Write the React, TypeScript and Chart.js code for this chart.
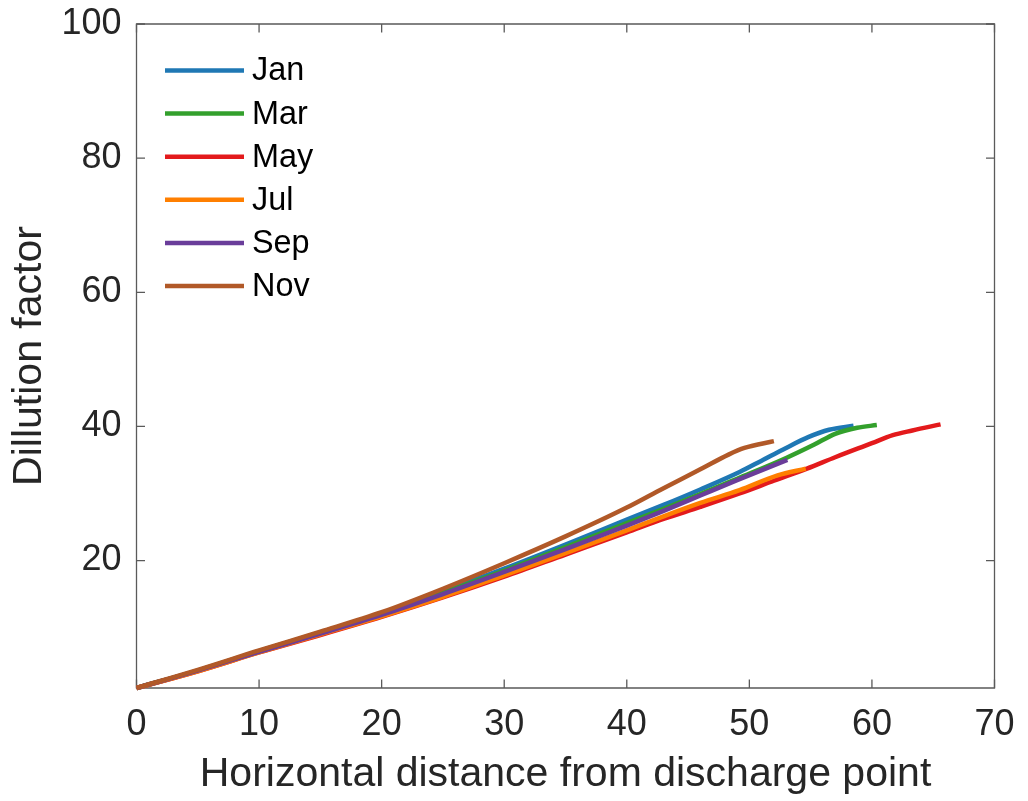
import React, { useEffect, useRef } from "react";
import { Chart, registerables } from "chart.js";

Chart.register(...registerables);

const seriesNames = ["Jan", "Mar", "May", "Jul", "Sep", "Nov"];
const seriesColors = ["#1f78b4", "#33a02c", "#e31a1c", "#ff7f00", "#6a3d9a", "#b15928"];

const janX = [0, 5, 10, 15, 20, 25, 30, 35, 40, 43, 46, 49.2, 51, 53, 54.8, 56.5, 58.5];
const janY = [1, 3.6, 6.5, 9.3, 12.1, 15.4, 18.8, 22.4, 26.1, 28.3, 30.6, 33.2, 34.9, 36.8, 38.4, 39.5, 40.1];

const marX = [0, 5, 10, 15, 20, 25, 30, 35, 40, 43, 46, 49, 53, 55.3, 57, 58.8, 60.4];
const marY = [1, 3.6, 6.5, 9.2, 12.0, 15.2, 18.5, 22.0, 25.6, 27.7, 29.9, 32.2, 35.3, 37.3, 38.9, 39.8, 40.2];

const mayX = [0, 5, 10, 15, 20, 25, 30, 35, 40, 43, 46, 49.2, 52, 54.7, 57, 60, 61.7, 63.3, 65.6];
const mayY = [1, 3.5, 6.3, 8.9, 11.6, 14.5, 17.6, 20.9, 24.2, 26.2, 28.0, 30.0, 31.9, 33.7, 35.4, 37.5, 38.7, 39.4, 40.3];

const julX = [0, 5, 10, 15, 20, 25, 30, 35, 40, 43, 46, 49.2, 52.3, 54.6];
const julY = [1, 3.5, 6.3, 9.0, 11.7, 14.6, 17.8, 21.1, 24.5, 26.6, 28.6, 30.5, 32.7, 33.7];

const sepX = [0, 5, 10, 15, 20, 25, 30, 35, 40, 43, 46, 49, 53.1];
const sepY = [1, 3.6, 6.4, 9.1, 11.9, 15.0, 18.3, 21.7, 25.2, 27.4, 29.7, 32.0, 35.0];

const novX = [0, 5, 10, 15, 20, 25, 30, 35, 40, 43, 46, 48.3, 49.6, 52.0];
const novY = [1, 3.7, 6.6, 9.4, 12.3, 15.8, 19.6, 23.6, 27.9, 30.8, 33.6, 35.8, 36.8, 37.8];

const xTicks = [0, 10, 20, 30, 40, 50, 60, 70];
const yTicks = [20, 40, 60, 80, 100];
const xTitle = "Horizontal distance from discharge point";
const yTitle = "Dillution factor";

const seriesX = [janX, marX, mayX, julX, sepX, novX];
const seriesY = [janY, marY, mayY, julY, sepY, novY];

const FONT = "'Liberation Sans', Arial, Helvetica, sans-serif";
const AXIS_COLOR = "#5a5a5a";
const TEXT_COLOR = "#262626";

const boxPlugin = {
  id: "boxTicks",
  beforeDatasetsDraw(chart: any) {
    const { ctx, chartArea } = chart;
    const xs = chart.scales.x;
    const ys = chart.scales.y;
    const { left, right, top, bottom } = chartArea;
    const tl = 8.5;
    ctx.save();
    ctx.strokeStyle = AXIS_COLOR;
    ctx.lineWidth = 1.3;
    ctx.beginPath();
    ctx.rect(left, top, right - left, bottom - top);
    ctx.stroke();
    ctx.beginPath();
    xTicks.forEach((v) => {
      const px = xs.getPixelForValue(v);
      ctx.moveTo(px, bottom);
      ctx.lineTo(px, bottom - tl);
      ctx.moveTo(px, top);
      ctx.lineTo(px, top + tl);
    });
    yTicks.forEach((v) => {
      const py = ys.getPixelForValue(v);
      ctx.moveTo(left, py);
      ctx.lineTo(left + tl, py);
      ctx.moveTo(right, py);
      ctx.lineTo(right - tl, py);
    });
    ctx.stroke();
    ctx.restore();
  },
  afterDatasetsDraw(chart: any) {
    const { ctx, chartArea } = chart;
    ctx.save();
    const x0 = chartArea.left + 28.5;
    const x1 = chartArea.left + 107.5;
    const tx = chartArea.left + 115.5;
    const y0 = chartArea.top + 46.5;
    const dy = 43.1;
    ctx.font = `32.4px ${FONT}`;
    ctx.textBaseline = "middle";
    ctx.textAlign = "left";
    chart.data.datasets.forEach((ds: any, i: number) => {
      const y = y0 + i * dy;
      ctx.strokeStyle = ds.borderColor;
      ctx.lineWidth = 4.5;
      ctx.beginPath();
      ctx.moveTo(x0, y);
      ctx.lineTo(x1, y);
      ctx.stroke();
      ctx.fillStyle = "#000000";
      ctx.fillText(ds.label, tx, y + 1);
    });
    ctx.restore();
  },
};

export default function App() {
  const canvasRef = useRef<HTMLCanvasElement | null>(null);

  useEffect(() => {
    const canvas = canvasRef.current;
    if (!canvas) return;
    const datasets = seriesNames.map((name, i) => ({
      label: name,
      data: seriesX[i].map((x, j) => ({ x, y: seriesY[i][j] })),
      borderColor: seriesColors[i],
      backgroundColor: seriesColors[i],
      borderWidth: 4.5,
      pointRadius: 0,
      fill: false,
      cubicInterpolationMode: "monotone" as const,
      borderJoinStyle: "round" as const,
      clip: false as any,
      order: seriesNames.length - i,
    }));
    const chart = new Chart(canvas, {
      type: "line",
      data: { datasets },
      plugins: [boxPlugin],
      options: {
        animation: false,
        responsive: false,
        maintainAspectRatio: false,
        layout: { padding: { top: 24, right: 33.5, left: 0, bottom: 0 } },
        plugins: { legend: { display: false }, tooltip: { enabled: false } },
        scales: {
          x: {
            type: "linear",
            min: 0,
            max: 70,
            grid: { display: false, drawTicks: false },
            border: { display: false },
            afterBuildTicks: (scale: any) => {
              scale.ticks = xTicks.map((v) => ({ value: v }));
            },
            afterFit: (scale: any) => {
              scale.height = 113;
              scale.paddingLeft = 0;
              scale.paddingRight = 0;
            },
            ticks: {
              padding: 15,
              maxRotation: 0,
              autoSkip: false,
              color: TEXT_COLOR,
              font: { family: FONT, size: 36 },
              callback: (v: any) => String(v),
            },
            title: {
              display: true,
              text: xTitle,
              color: TEXT_COLOR,
              font: { family: FONT, size: 41 },
              padding: { top: 0, bottom: 1.5 },
            },
          },
          y: {
            type: "linear",
            min: 1,
            max: 100,
            grid: { display: false, drawTicks: false },
            border: { display: false },
            afterBuildTicks: (scale: any) => {
              scale.ticks = yTicks.map((v) => ({ value: v }));
            },
            afterFit: (scale: any) => {
              scale.width = 136.5;
              scale.paddingTop = 0;
              scale.paddingBottom = 0;
            },
            ticks: {
              padding: 15,
              autoSkip: false,
              color: TEXT_COLOR,
              font: { family: FONT, size: 36 },
              callback: (v: any) => String(v),
            },
            title: {
              display: true,
              text: yTitle,
              color: TEXT_COLOR,
              font: { family: FONT, size: 41 },
              padding: { top: 5.5, bottom: 0 },
            },
          },
        },
      },
    });
    return () => chart.destroy();
  }, []);

  return (
    <div style={{ position: "absolute", left: 0, top: 0, width: 1028, height: 801, background: "#ffffff" }}>
      <canvas ref={canvasRef} width={1028} height={801} style={{ display: "block" }} />
    </div>
  );
}
